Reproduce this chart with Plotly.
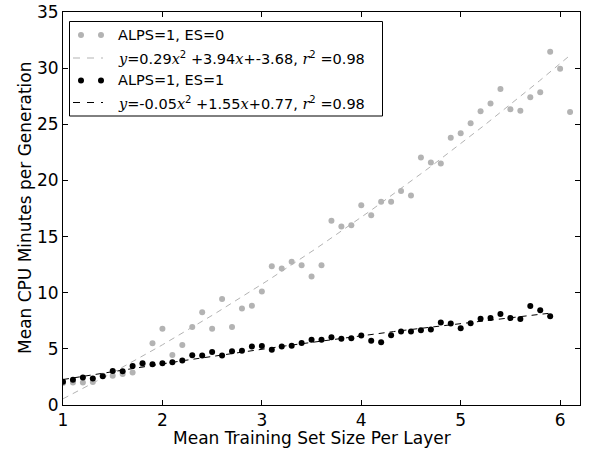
import plotly.graph_objects as go
import numpy as np

# ---------------- data ----------------
x_es0 = [1.0, 1.1, 1.2, 1.3, 1.4, 1.5, 1.6, 1.7, 1.8, 1.9,
         2.0, 2.1, 2.2, 2.3, 2.4, 2.5, 2.6, 2.7, 2.8, 2.9,
         3.0, 3.1, 3.2, 3.3, 3.4, 3.5, 3.6, 3.7, 3.8, 3.9,
         4.0, 4.1, 4.2, 4.3, 4.4, 4.5, 4.6, 4.7, 4.8, 4.9,
         5.0, 5.1, 5.2, 5.3, 5.4, 5.5, 5.6, 5.7, 5.8, 5.9,
         6.0, 6.1]
y_es0 = [1.95, 2.0, 2.0, 2.05, 2.6, 2.6, 2.75, 2.9, 3.6, 5.5,
         6.8, 4.45, 5.35, 6.95, 8.25, 6.8, 9.45, 6.95, 8.6, 8.85,
         10.1, 12.35, 12.15, 12.75, 12.45, 11.45, 12.45, 16.4, 15.9, 16.0,
         17.8, 16.9, 18.1, 18.1, 19.05, 18.65, 22.05, 21.6, 21.5, 23.8,
         24.2, 25.1, 26.15, 26.85, 28.15, 26.35, 26.2, 27.4, 27.85, 31.45,
         29.95, 26.1]

x_es1 = [1.0, 1.1, 1.2, 1.3, 1.4, 1.5, 1.6, 1.7, 1.8, 1.9,
         2.0, 2.1, 2.2, 2.3, 2.4, 2.5, 2.6, 2.7, 2.8, 2.9,
         3.0, 3.1, 3.2, 3.3, 3.4, 3.5, 3.6, 3.7, 3.8, 3.9,
         4.0, 4.1, 4.2, 4.3, 4.4, 4.5, 4.6, 4.7, 4.8, 4.9,
         5.0, 5.1, 5.2, 5.3, 5.4, 5.5, 5.6, 5.7, 5.8, 5.9]
y_es1 = [2.07, 2.25, 2.46, 2.37, 2.55, 3.03, 3.0, 3.48, 3.72, 3.63,
         3.72, 3.81, 3.96, 4.43, 4.41, 4.71, 4.41, 4.78, 4.84, 5.2,
         5.25, 4.93, 5.22, 5.28, 5.52, 5.8, 5.82, 6.04, 5.91, 5.94,
         6.18, 5.73, 5.58, 6.21, 6.54, 6.54, 6.66, 6.72, 7.35, 7.26,
         6.84, 7.29, 7.68, 7.74, 8.1, 7.74, 7.65, 8.82, 8.44, 7.9]

# quadratic fit coefficients (a, b, c) as printed in the legend
fit_es0 = [0.29, 3.94, -3.68]
fit_es1 = [-0.05, 1.55, 0.77]
r2_es0 = 0.98
r2_es1 = 0.98

label_es0 = "ALPS=1, ES=0"
label_es1 = "ALPS=1, ES=1"

x_ticks = [1, 2, 3, 4, 5, 6]
y_ticks = [0, 5, 10, 15, 20, 25, 30, 35]

x_title = "Mean Training Set Size Per Layer"
y_title = "Mean CPU Minutes per Generation"

# ---------------- styles ----------------
GRAY = "#b3b3b3"
FONT = "DejaVu Sans"
W, H = 595, 450
L, R, T, B = 63, 15, 12, 45
PW, PH = W - L - R, H - T - B


def fit_curve(xs, coef):
    xx = np.linspace(min(xs), max(xs), 200)
    a, b, c = coef
    return xx, a * xx ** 2 + b * xx + c


fig = go.Figure()

fig.add_trace(go.Scatter(x=x_es0, y=y_es0, mode="markers", name=label_es0,
                         marker=dict(color=GRAY, size=6, line=dict(width=0))))
fx0, fy0 = fit_curve(x_es0, fit_es0)
fig.add_trace(go.Scatter(x=fx0, y=fy0, mode="lines",
                         line=dict(color=GRAY, width=1, dash="6px,5px")))
fig.add_trace(go.Scatter(x=x_es1, y=y_es1, mode="markers", name=label_es1,
                         marker=dict(color="black", size=6, line=dict(width=0))))
fx1, fy1 = fit_curve(x_es1, fit_es1)
fig.add_trace(go.Scatter(x=fx1, y=fy1, mode="lines",
                         line=dict(color="black", width=1, dash="6px,5px")))


def fmt_num(v):
    return f"{v:.2f}"


def eq_text(coef, r2):
    a, b, c = coef
    it = lambda s: f'<span style="font-family:DejaVu Serif"><i>{s}</i></span>'
    return (f"{it('y')}={fmt_num(a)}{it('x')}<sup>2</sup> +{fmt_num(b)}{it('x')}"
            f"+{fmt_num(c)}, {it('r')}<sup>2</sup> ={fmt_num(r2)}")


# ---------------- manual legend (matplotlib look) ----------------
def pxp(p):
    return (p - L) / PW


def pyp(p):
    return (H - B - p) / PH


shapes = [dict(type="rect", xref="paper", yref="paper",
               x0=pxp(69.5), x1=pxp(382.5), y0=pyp(116), y1=pyp(21.5),
               line=dict(color="black", width=1), fillcolor="white", layer="above")]
rows = [35, 58, 80.5, 102.5]
entries = [("marker", GRAY, label_es0), ("line", GRAY, eq_text(fit_es0, r2_es0)),
           ("marker", "black", label_es1), ("line", "black", eq_text(fit_es1, r2_es1))]
annotations = []
for rowy, (kind, col, txt) in zip(rows, entries):
    if kind == "marker":
        for cx in (81, 101):
            shapes.append(dict(type="circle", xref="paper", yref="paper",
                               xsizemode="pixel", ysizemode="pixel",
                               xanchor=pxp(cx), yanchor=pyp(rowy),
                               x0=-3, x1=3, y0=-3, y1=3,
                               fillcolor=col, line=dict(width=0), layer="above"))
    else:
        shapes.append(dict(type="line", xref="paper", yref="paper",
                           x0=pxp(73), x1=pxp(103), y0=pyp(rowy), y1=pyp(rowy),
                           line=dict(color=col, width=1, dash="7px,7px"), layer="above"))
    annotations.append(dict(xref="paper", yref="paper", x=pxp(116), y=pyp(rowy),
                            xanchor="left", yanchor="middle", showarrow=False,
                            text=txt, font=dict(family=FONT, size=14.5, color="black")))

# axis titles placed like matplotlib
annotations.append(dict(xref="paper", yref="paper", x=pxp(312), y=pyp(438),
                        xanchor="center", yanchor="middle", showarrow=False,
                        text=x_title, font=dict(family=FONT, size=17, color="black")))
annotations.append(dict(xref="paper", yref="paper", x=pxp(25), y=pyp(208),
                        xanchor="center", yanchor="middle", showarrow=False,
                        textangle=-90,
                        text=y_title, font=dict(family=FONT, size=17, color="black")))

axis_common = dict(showline=True, linecolor="black", linewidth=1, mirror="ticks",
                   ticks="inside", ticklen=5, tickcolor="black", tickwidth=1,
                   showgrid=False, zeroline=False, automargin=False,
                   tickfont=dict(family=FONT, size=17, color="black"))

fig.update_layout(
    width=W, height=H,
    margin=dict(l=L, r=R, t=T, b=B),
    paper_bgcolor="white", plot_bgcolor="white",
    showlegend=False,
    font=dict(family=FONT, color="black"),
    xaxis=dict(range=[1, 6.2], tickvals=x_ticks, ticktext=[str(v) for v in x_ticks],
               **axis_common),
    yaxis=dict(range=[0, 35], tickvals=y_ticks, ticktext=[str(v) for v in y_ticks],
               **axis_common),
    shapes=shapes,
    annotations=annotations,
)

fig.write_html("out.html", config={"displayModeBar": False},
               post_script="document.body.style.margin='0px';document.body.style.overflow='hidden';")
